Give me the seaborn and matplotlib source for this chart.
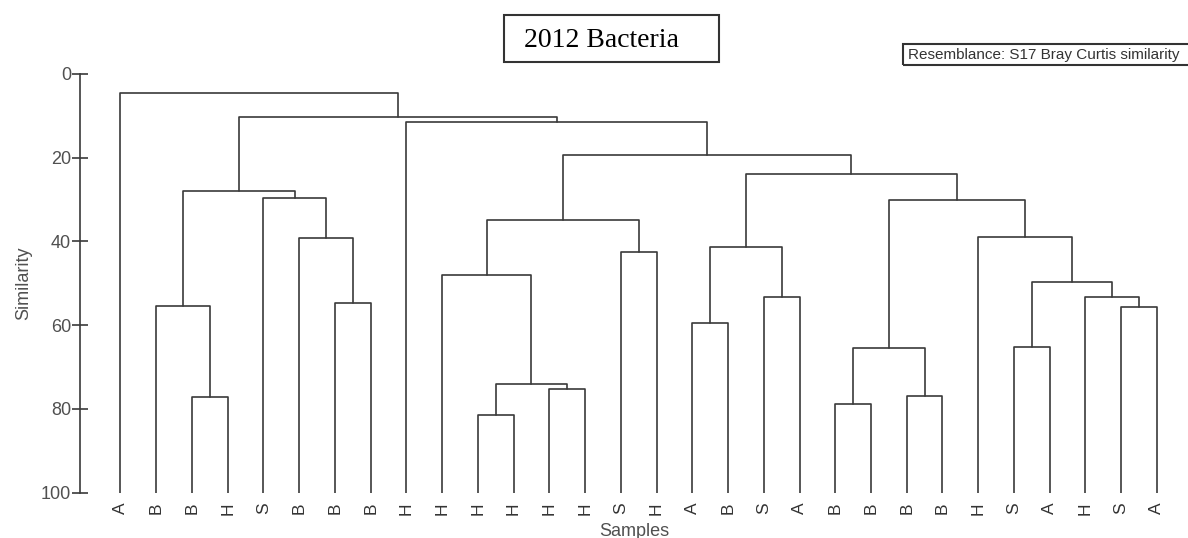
import pandas as pd
import seaborn as sns
import matplotlib.pyplot as plt
from matplotlib.patches import Rectangle

# Leaf labels in plotted order
samples = ['A', 'B', 'B', 'H', 'S', 'B', 'B', 'B', 'H', 'H',
           'H', 'H', 'H', 'H', 'S', 'H', 'A', 'B', 'S', 'A',
           'B', 'B', 'B', 'B', 'H', 'S', 'A', 'H', 'S', 'A']

# Merges (scipy-like ids: 0-29 leaves, 30+ clusters in order) and similarity
merge_left = [2, 1, 6, 5, 4, 31, 10, 12, 36, 9, 14, 39, 16, 18, 42,
              20, 22, 45, 25, 28, 27, 48, 24, 47, 44, 41, 8, 35, 0]
merge_right = [3, 30, 7, 32, 33, 34, 11, 13, 37, 38, 15, 40, 17, 19, 43,
               21, 23, 46, 26, 29, 49, 50, 51, 52, 53, 54, 55, 56, 57]
merge_sim = [77.2, 55.3, 54.8, 39.2, 29.6, 27.9, 81.4, 75.2, 74.0, 48.0,
             42.4, 34.9, 59.4, 53.3, 41.4, 78.8, 76.9, 65.4, 65.1, 55.7,
             53.3, 49.7, 38.9, 30.2, 23.9, 19.3, 11.4, 10.3, 4.5]

# build the U-shaped links of the dendrogram
n = len(samples)
xpos = {i: float(i) for i in range(n)}
ypos = {i: 100.0 for i in range(n)}
rows = []
for k, (a, b, h) in enumerate(zip(merge_left, merge_right, merge_sim)):
    pts = [(xpos[a], ypos[a]), (xpos[a], h), (xpos[b], h), (xpos[b], ypos[b])]
    for order, (px, py) in enumerate(pts):
        rows.append({'x': px, 'sim': py, 'link': k, 'order': order})
    xpos[n + k] = (xpos[a] + xpos[b]) / 2
    ypos[n + k] = h
links = pd.DataFrame(rows)

sns.set_style('white')
plt.rcParams['font.family'] = ['Liberation Sans', 'DejaVu Sans']

fig = plt.figure(figsize=(11.88, 5.38), dpi=100)
ax = fig.add_axes([0.0673, 0.0842, 0.9327, 0.7783])

line_col = '#3a3a3a'
sns.lineplot(data=links, x='x', y='sim', units='link', estimator=None,
             sort=False, color=line_col, linewidth=1.2, ax=ax, legend=False)

ax.set_xlim(-1.133, 29.87)
ax.set_ylim(100, 0)
ax.set_yticks([0, 20, 40, 60, 80, 100])
ax.set_xticks(range(n))
ax.set_xticklabels(samples, rotation=90, fontsize=12.5, color='#333333')
ax.tick_params(axis='x', length=0, pad=7)
ax.tick_params(axis='y', left=True, direction='inout', length=11, width=1.2,
               color=line_col, labelsize=13, labelcolor='#505050', pad=1)

for side in ['top', 'right', 'bottom']:
    ax.spines[side].set_visible(False)
ax.spines['left'].set_color(line_col)
ax.spines['left'].set_linewidth(1.2)

ax.set_xlabel('Samples', fontsize=13, color='#505050', labelpad=6)
ax.set_ylabel('Similarity', fontsize=13, color='#505050', labelpad=6)

# title box
fig.patches.append(Rectangle((0.4242, 0.8848), 0.181, 0.0874, transform=fig.transFigure,
                             fill=False, edgecolor='#333333', linewidth=1.5))
fig.text(0.5067, 0.9126, '2012 Bacteria', ha='center', va='baseline',
         fontsize=20, family='Liberation Serif', color='black')

# resemblance note box
fig.patches.append(Rectangle((0.760, 0.8792), 0.26, 0.039, transform=fig.transFigure,
                             fill=False, edgecolor='#333333', linewidth=1.5))
fig.text(0.7643, 0.8903, 'Resemblance: S17 Bray Curtis similarity', ha='left',
         va='baseline', fontsize=11, color='#333333')

plt.savefig('out.png', dpi=100)
plt.close()
